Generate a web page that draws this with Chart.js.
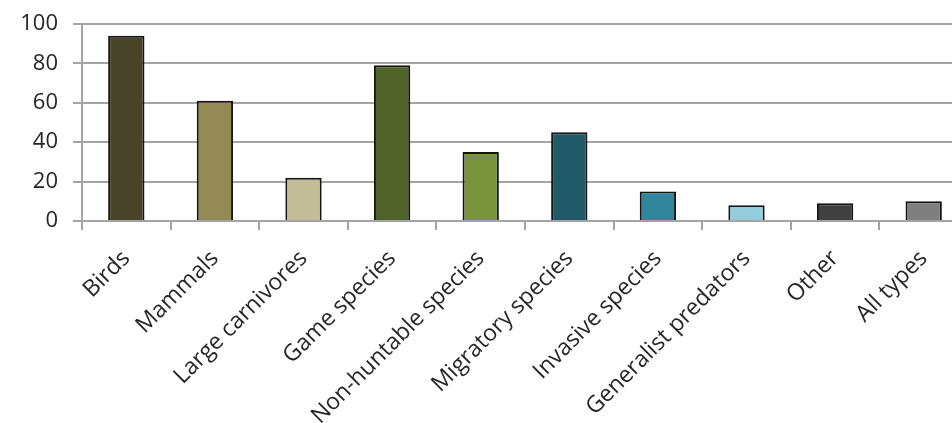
<!DOCTYPE html>
<html>
<head>
<meta charset="utf-8">
<script src="https://cdn.jsdelivr.net/npm/chart.js@4/dist/chart.umd.min.js"></script>
<style>
    html, body { margin: 0; padding: 0; background: #fff; overflow: hidden; }
    #wrap { width: 968px; height: 423px; }
</style>
</head>
<body>
<div id="wrap"><canvas id="chart" width="968" height="423"></canvas></div>
<script>
const categories = ['Birds', 'Mammals', 'Large carnivores', 'Game species', 'Non-huntable species', 'Migratory species', 'Invasive species', 'Generalist predators', 'Other', 'All types'];
const counts = [94, 61, 22, 79, 35, 45, 15, 8, 9, 10];
const barColors = ['#4a452a', '#948a54', '#c4bd97', '#4f6228', '#77933c', '#215968', '#31859c', '#93cddd', '#404040', '#7f7f7f'];
const yTicks = [0, 20, 40, 60, 80, 100];

const gridGray = '#a4a4a4';
const textColor = '#262626';
const yFont = { family: '"Open Sans", sans-serif', size: 22 };
const xFont = { family: '"Open Sans", sans-serif', size: 23 };

new Chart(document.getElementById('chart').getContext('2d'), {
    type: 'bar',
    data: {
        labels: categories,
        datasets: [{
            data: counts,
            backgroundColor: barColors,
            borderColor: '#151515',
            borderWidth: 2,
            borderSkipped: 'start',
            categoryPercentage: 1,
            barPercentage: 0.41
        }]
    },
    options: {
        responsive: false,
        animation: false,
        layout: { padding: { top: 24, left: 0, right: 0, bottom: 0 } },
        plugins: { legend: { display: false }, tooltip: { enabled: false } },
        scales: {
            x: {
                offset: true,
                grid: { offset: true, drawOnChartArea: false, drawTicks: true, tickLength: 9, color: gridGray, lineWidth: 2 },
                border: { display: true, color: gridGray, width: 2 },
                ticks: { color: textColor, font: xFont, minRotation: 45, maxRotation: 45, autoSkip: false, padding: 15 },
                afterFit: scale => { scale.height = 202; }
            },
            y: {
                min: 0,
                max: 100,
                afterBuildTicks: scale => { scale.ticks = yTicks.map(v => ({ value: v })); },
                grid: { color: gridGray, lineWidth: 2, drawTicks: true, tickLength: 9 },
                border: { display: true, color: gridGray, width: 2 },
                ticks: { color: textColor, font: yFont, padding: 15 },
                afterFit: scale => {
                    scale.width = 82;
                    scale.paddingTop = 0;
                    scale.paddingBottom = 0;
                }
            }
        }
    }
});
</script>
</body>
</html>
